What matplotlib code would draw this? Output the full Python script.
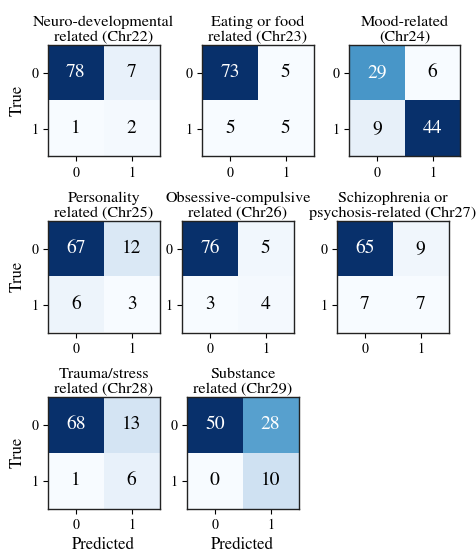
import numpy as np
import matplotlib
matplotlib.use("Agg")
import matplotlib.pyplot as plt

plt.rcParams["font.family"] = ["STIXGeneral", "Liberation Serif", "DejaVu Serif"]

titles = [
    "Neuro-developmental\nrelated (Chr22)",
    "Eating or food\nrelated (Chr23)",
    "Mood-related\n(Chr24)",
    "Personality\nrelated (Chr25)",
    "Obsessive-compulsive\nrelated (Chr26)",
    "Schizophrenia or\npsychosis-related (Chr27)",
    "Trauma/stress\nrelated (Chr28)",
    "Substance\nrelated (Chr29)",
]

chr22 = [[78, 7], [1, 2]]
chr23 = [[73, 5], [5, 5]]
chr24 = [[29, 6], [9, 44]]
chr25 = [[67, 12], [6, 3]]
chr26 = [[76, 5], [3, 4]]
chr27 = [[65, 9], [7, 7]]
chr28 = [[68, 13], [1, 6]]
chr29 = [[50, 28], [0, 10]]
matrices = [chr22, chr23, chr24, chr25, chr26, chr27, chr28, chr29]

class_labels = ["0", "1"]

W, H = 476, 553
fig = plt.figure(figsize=(W / 100, H / 100), dpi=100)

# axes boxes in pixels: (left, top)
boxes = [
    (48, 45), (202, 45), (349, 45),
    (48, 221), (182, 221), (337, 221),
    (48, 397), (187, 397),
]
size = 111.5

cmap = plt.get_cmap("Blues")
for i, (cm, title, (lx, ty)) in enumerate(zip(matrices, titles, boxes)):
    cm = np.array(cm)
    ax = fig.add_axes([lx / W, 1 - (ty + size) / H, size / W, size / H])
    ax.imshow(cm, cmap=cmap, interpolation="nearest")
    thresh = (cm.max() + cm.min()) / 2.0
    for r in range(2):
        for c in range(2):
            color = "white" if cm[r, c] >= thresh else "black"
            ax.text(c, r, f"{cm[r, c]}", ha="center", va="center",
                    fontsize=14, color=color)
    ax.set_xticks([0, 1])
    ax.set_yticks([0, 1])
    ax.set_xticklabels(class_labels, fontsize=10)
    ax.set_yticklabels(class_labels, fontsize=10)
    for s in ax.spines.values():
        s.set_linewidth(1.0)
        s.set_color("#222222")
    ax.set_title(title, fontsize=11.6, pad=3, linespacing=1.15)
    if i % 3 == 0:
        ax.set_ylabel("True", fontsize=12)
    if i >= 6:
        ax.set_xlabel("Predicted", fontsize=12)

fig.savefig("out.png", dpi=100)
